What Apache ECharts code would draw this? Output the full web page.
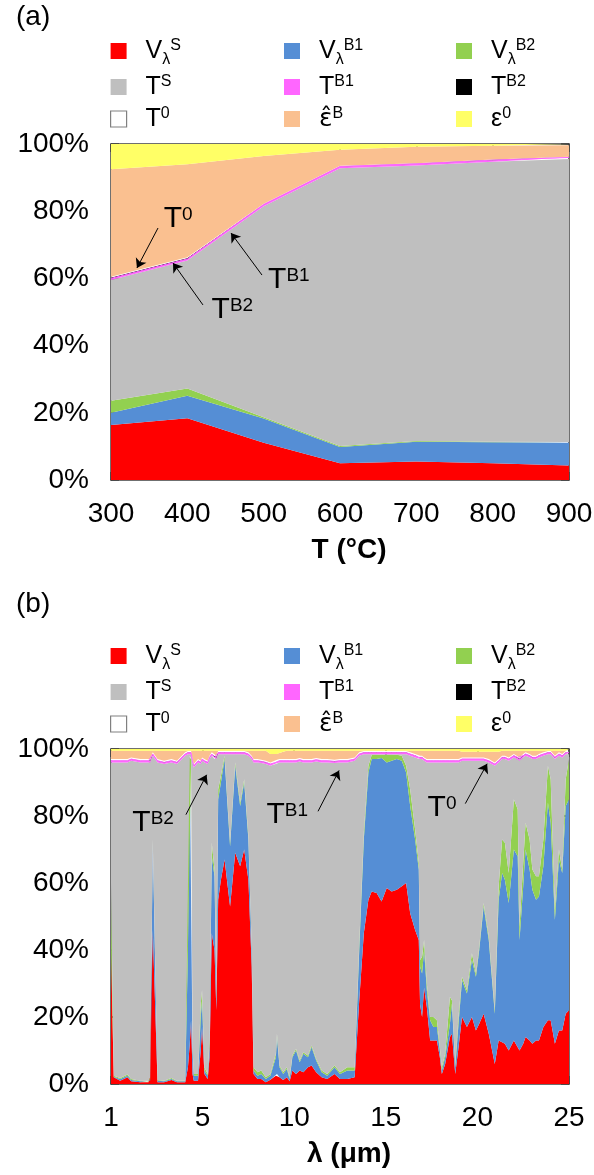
<!DOCTYPE html>
<html>
<head>
<meta charset="utf-8">
<script src="https://cdn.jsdelivr.net/npm/echarts@6/dist/echarts.min.js"></script>
<style>
html, body { margin: 0; padding: 0; background: #fff; }
#chart { width: 594px; height: 1175px; }
</style>
</head>
<body>
<div id="chart"></div>
<script>
// ---- (a) share of each term vs temperature (%) ----
var tempC = [300, 400, 500, 600, 700, 800, 900];
var aVS  = [16.4, 18.4, 11.1, 5.0, 5.5, 5.0, 4.3];
var aVB1 = [3.6, 6.7, 7.2, 4.8, 5.9, 6.2, 6.8];
var aVB2 = [3.6, 2.1, 0.4, 0.3, 0.2, 0.2, 0.2];
var aTS  = [35.9, 38.1, 62.8, 82.7, 82.0, 83.3, 84.2];
var aTB1 = [0.5, 0.5, 0.5, 0.5, 0.5, 0.5, 0.5];
var aTB2 = [0.3, 0.3, 0.1, 0.1, 0.1, 0.1, 0.1];
var aT0  = [0.2, 0.2, 0.1, 0.1, 0.1, 0.1, 0.1];
var aEB  = [32.0, 27.7, 14.2, 4.8, 4.9, 4.1, 3.4];
var aE0  = [7.5, 6.0, 3.6, 1.7, 0.8, 0.5, 0.4];

// ---- (b) share of each term vs wavelength (%) ----
var lambdaUm = [0,0.15,0.5,0.9,1.1,1.6,2.05,2.14,2.28,2.54,
  2.9,3.3,3.6,4.05,4.2,4.3,4.37,4.45,4.52,4.75,
  4.9,4.97,5.1,5.28,5.38,5.5,5.65,5.75,5.85,6.0,
  6.2,6.5,6.78,7.05,7.27,7.5,7.68,7.78,8.0,8.2,
  8.45,8.7,9.0,9.06,9.2,9.4,9.6,9.75,9.9,10.1,
  10.3,10.5,10.75,10.95,11.2,11.5,11.8,12.2,12.5,12.9,
  13.3,13.55,13.8,14.05,14.23,14.5,14.77,15.05,15.32,15.6,
  15.87,16.11,16.33,16.6,16.8,16.87,16.98,17.09,17.24,17.42,
  17.6,17.79,17.95,18.06,18.24,18.5,18.61,18.79,18.97,19.16,
  19.43,19.7,19.92,20.1,20.34,20.62,20.95,21.16,21.35,21.5,
  21.71,21.99,22.2,22.3,22.5,22.63,22.85,23.0,23.2,23.36,
  23.6,23.85,24.0,24.23,24.45,24.63,24.82,25.0];
var bVS = [40,2,1,2,0.8,0.5,0.5,1,46,0.5,
  0.5,1.2,0.5,0.5,5,12,19,3,1,1,
  10,17,3,1.5,8,45,40,22,55,61,
  67,53,69,65,70,61,35,3,1.5,1.5,
  0.5,1.3,2.5,3,2,1.2,2,0.8,4,3,
  4,3.5,5,5.5,3.5,2,1.5,3,1.5,1.5,
  2,25,45,55,57.5,57,54.5,58.5,57.5,58,
  59,60,51,46,43,23.7,20,28.7,23,13,
  13,13,8,3,6,14,15,3,11,20,
  17,20,16,18,21,15,6,13,12.5,12,
  10,13,11,10,12,14,13,12,13,13,
  17,19,19,12,16,16,21,22];
var bVB1 = [1,0.2,0.5,0.5,0.4,0.3,0.3,0.5,26,0.5,
  0.3,0.3,0.3,0.3,35,84,77,7,1.5,1.5,
  10,8,1,1,4,23,22,3,30,29,
  30,18,26,18,20,12,5,1,1,1.5,
  1,1.2,5.5,11,3,1.8,2.5,0.7,4,7,
  2.5,5.5,3,5.5,3.5,1.5,1,2,1.5,2.5,
  2,15,28,38,39.5,40,42.8,37.5,39,39,
  37.5,33,32,27,21,11.3,13,11.3,5,6,
  4,4,2,1,2,4,9,2,7,11,
  10,17,16,22,32,28,15,42,50.5,49,
  44,57,57,33,47,56,51,46,42,43,
  48,65,59,37,51,47,62,63];
var bVB2 = [19,0.3,0.3,0.3,0.3,0.2,0.2,0.5,1,0.2,
  0.2,0.3,0.2,0.2,58,2,1,1,0.5,0.5,
  4,3,1,0.5,2,4,2,2,3,2,
  1,1,1,1,1,1,1,1,1,1,
  0.5,0.5,1,1,0.5,0.5,0.5,0.5,0.5,0.5,
  0.5,0.5,0.5,0.5,0.5,0.5,0.5,0.5,0.5,1,
  1,2,2,2,1.2,1.2,1,2.2,1.7,1.3,
  1.5,2,5,3,2,2,5,3,2,1,
  3,2,1,1,1,8,1,1,2,1,
  1,2,1,1,1,1,1,4,10,11,
  9,15,14,4,7,8,9,6,7,6,
  8,11,13,3,3,1,8,12];
var bTS = [36,93.5,94.2,93.2,95,95,95,94,25,94.8,
  94.5,94.2,94.5,97,0.4,0.4,1.4,85,91.5,93,
  71.5,68.5,91,92.5,83,26,33,70,10.4,6.4,
  0.4,26.4,2.4,14.4,7.4,24,56,91,92.5,91.8,
  93.5,92,86.5,80.8,90.5,92.5,91,94,87.5,85.5,
  89.3,86.5,87.5,84.5,88.8,92,93,90.3,92.5,91,
  91.5,56,23.4,3.4,0.2,0.2,0.1,0.2,0.2,0.1,
  0.4,3.4,10,21.5,31,60,59,53.5,66,76,
  76,77,85,91,87,70,71,90,76,64.5,
  68.5,57.5,63.5,55.5,42.5,52,73,37,24,25,
  33.5,12.5,15,49.5,31.5,20,24.5,33,35,35.5,
  25,3.4,7.4,45,28,33.5,7.4,1.4];
var bTB1 = [0.5,0.5,0.5,0.5,0.5,0.5,0.5,0.5,0.5,0.5,
  0.5,0.5,0.5,0.5,0.5,0.5,0.5,0.5,0.5,0.5,
  0.5,0.5,0.5,0.5,0.5,0.5,0.5,0.5,0.5,0.5,
  0.5,0.5,0.5,0.5,0.5,0.5,0.5,0.5,0.5,0.5,
  0.5,0.5,0.5,0.5,0.5,0.5,0.5,0.5,0.5,0.5,
  0.5,0.5,0.5,0.5,0.5,0.5,0.5,0.5,0.5,0.5,
  0.5,0.5,0.5,0.5,0.5,0.5,0.5,0.5,0.5,0.5,
  0.5,0.5,0.5,0.5,0.5,0.5,0.5,0.5,0.5,0.5,
  0.5,0.5,0.5,0.5,0.5,0.5,0.5,0.5,0.5,0.5,
  0.5,0.5,0.5,0.5,0.5,0.5,0.5,0.5,0.5,0.5,
  0.5,0.5,0.5,0.5,0.5,0.5,0.5,0.5,0.5,0.5,
  0.5,0.5,0.5,0.5,0.5,0.5,0.5,0.5];
var bTB2 = [0.1,0.1,0.1,0.1,0.1,0.1,0.1,0.1,0.1,0.1,
  0.1,0.1,0.1,0.1,0.1,0.1,0.1,0.1,0.1,0.1,
  0.1,0.1,0.1,0.1,0.1,0.1,0.1,0.1,0.1,0.1,
  0.1,0.1,0.1,0.1,0.1,0.1,0.1,0.1,0.1,0.1,
  0.1,0.1,0.1,0.1,0.1,0.1,0.1,0.1,0.1,0.1,
  0.1,0.1,0.1,0.1,0.1,0.1,0.1,0.1,0.1,0.1,
  0.1,0.1,0.1,0.1,0.1,0.1,0.1,0.1,0.1,0.1,
  0.1,0.1,0.1,0.1,0.1,0.1,0.1,0.1,0.1,0.1,
  0.1,0.1,0.1,0.1,0.1,0.1,0.1,0.1,0.1,0.1,
  0.1,0.1,0.1,0.1,0.1,0.1,0.1,0.1,0.1,0.1,
  0.1,0.1,0.1,0.1,0.1,0.1,0.1,0.1,0.1,0.1,
  0.1,0.1,0.1,0.1,0.1,0.1,0.1,0.1];
var bT0 = [0.4,0.4,0.4,0.4,0.4,0.4,0.4,0.4,0.4,0.4,
  0.4,0.4,0.4,0.4,0.4,0.4,0.4,0.4,0.4,0.4,
  0.4,0.4,0.4,0.4,0.4,0.4,0.4,0.4,0.4,0.4,
  0.4,0.4,0.4,0.4,0.4,0.4,0.4,0.4,0.4,0.4,
  0.4,0.4,0.4,0.4,0.4,0.4,0.4,0.4,0.4,0.4,
  0.4,0.4,0.4,0.4,0.4,0.4,0.4,0.4,0.4,0.4,
  0.4,0.4,0.4,0.4,0.4,0.4,0.4,0.4,0.4,0.4,
  0.4,0.4,0.4,0.4,0.4,0.4,0.4,0.4,0.4,0.4,
  0.4,0.4,0.4,0.4,0.4,0.4,0.4,0.4,0.4,0.4,
  0.4,0.4,0.4,0.4,0.4,0.4,0.4,0.4,0.4,0.4,
  0.4,0.4,0.4,0.4,0.4,0.4,0.4,0.4,0.4,0.4,
  0.4,0.4,0.4,0.4,0.4,0.4,0.4,0.4];
var bEB = [2.5,2.5,2.5,2.5,2.0,2.5,2.5,2.5,0.5,2.5,
  3.0,2.5,3.0,0.5,0.1,0.1,0.1,2.5,4.0,2.5,
  3.0,2.0,2.5,3.0,1.5,0.5,1.5,1.5,0.1,0.1,
  0.1,0.1,0.1,0.1,0.1,0.5,1.5,2.5,2.5,2.7,
  3.0,2.5,2.0,1.7,1.8,2.2,2.5,2.5,2.5,2.5,
  2.2,2.5,2.5,2.5,2.2,2.5,2.5,2.7,2.5,2.5,
  2.0,0.5,0.1,0.1,0.1,0.1,0.1,0.1,0.1,0.1,
  0.1,0.1,0.5,1.0,1.5,1.5,1.5,2.0,2.5,2.5,
  2.5,2.5,2.5,2.5,2.5,2.5,2.5,2.5,2.5,1.7,
  1.7,1.7,1.7,1.7,1.7,2.2,3.2,2.2,1.5,1.5,
  2.0,1.0,1.5,2.0,1.0,0.5,1.0,1.5,1.5,1.0,
  0.5,0.1,0.1,1.5,0.5,1.0,0.1,0.1];
var bE0 = [0.5,0.5,0.5,0.5,0.5,0.5,0.5,0.5,0.5,0.5,
  0.5,0.5,0.5,0.5,0.5,0.5,0.5,0.5,0.5,0.5,
  0.5,0.5,0.5,0.5,0.5,0.5,0.5,0.5,0.5,0.5,
  0.5,0.5,0.5,0.5,0.5,0.5,0.5,0.5,0.5,0.5,
  0.5,1.5,1.5,1.5,1.2,0.8,0.5,0.5,0.5,0.5,
  0.5,0.5,0.5,0.5,0.5,0.5,0.5,0.5,0.5,0.5,
  0.5,0.5,0.5,0.5,0.5,0.5,0.5,0.5,0.5,0.5,
  0.5,0.5,0.5,0.5,0.5,0.5,0.5,0.5,0.5,0.5,
  0.5,0.5,0.5,0.5,0.5,0.5,0.5,0.5,0.5,0.8,
  0.8,0.8,0.8,0.8,0.8,0.8,0.8,0.8,0.5,0.5,
  0.5,0.5,0.5,0.5,0.5,0.5,0.5,0.5,0.5,0.5,
  0.5,0.5,0.5,0.5,0.5,0.5,0.5,0.5];

// arrow annotations, in data units: label centre, arrow tail, arrow head
var notesA = [
  { text: '{t|T}{s|0}',  at: [388, 77.7], from: [361.6, 75.0], to: [334, 63.1] },
  { text: '{t|T}{s|B2}', at: [459, 50.6], from: [420.5, 52.1], to: [381.2, 64.6] },
  { text: '{t|T}{s|B1}', at: [533, 59.5], from: [497.8, 61.0], to: [457.2, 73.5] }
];
var notesB = [
  { text: '{t|T}{s|B2}', at: [2.3, 78.1],  from: [4.09, 80.4],  to: [5.22, 92.3] },
  { text: '{t|T}{s|B1}', at: [9.62, 80.4], from: [11.3, 81.4],  to: [12.45, 93.6] },
  { text: '{t|T}{s|0}',  at: [18.07, 82.4], from: [19.34, 83.7], to: [20.53, 95.6] }
];

var FONT = "'Liberation Sans', Arial, sans-serif";
var names = ['VS', 'VB1', 'VB2', 'TS', 'TB1', 'TB2', 'T0', 'EB', 'E0'];
var colors = {
  VS: '#ff0000', VB1: '#558ed5', VB2: '#92d050', TS: '#bfbfbf', TB1: '#ff66ff',
  TB2: '#000000', T0: '#ffffff', EB: '#fac090', E0: '#ffff66'
};
var legendText = {
  VS: '{b|V}{sub|λ}{sup|S}', VB1: '{b|V}{sub|λ}{sup|B1}', VB2: '{b|V}{sub|λ}{sup|B2}',
  TS: '{b|T}{sup|S}', TB1: '{b|T}{sup|B1}', TB2: '{b|T}{sup|B2}',
  T0: '{b|T}{sup|0}', EB: '{e|ε\u0302}{sup|B}', E0: '{b|ε}{sup|0}'
};

// value first, x second: the stack then runs on the y dimension
function pairs(xs, ys) {
  return xs.map(function (x, i) { return [ys[i], x]; });
}

var noteRich = {
  t: { fontSize: 30, fontFamily: FONT, color: '#000', lineHeight: 34 },
  s: { fontSize: 19, fontFamily: FONT, color: '#000', lineHeight: 34, padding: [0, 0, 8, 0] }
};

function buildSeries(gridIdx, xs, cols, stackId, notes) {
  return names.map(function (n, k) {
    var s = {
      name: n,
      type: 'line',
      xAxisIndex: gridIdx * 2,
      yAxisIndex: gridIdx * 2,
      stack: stackId,
      encode: { x: 1, y: 0 },
      data: pairs(xs, cols[k]),
      symbol: 'none',
      showSymbol: false,
      lineStyle: n === 'TB1' ? { width: 1, color: colors[n] } : { width: 0 },
      itemStyle: { color: colors[n] },
      areaStyle: { color: colors[n], opacity: 1 },
      emphasis: { disabled: true },
      silent: true
    };
    if (n === 'E0') {
      s.markLine = {
        silent: true,
        symbol: ['none', 'arrow'],
        symbolSize: 9,
        lineStyle: { color: '#000', width: 1, type: 'solid' },
        label: { show: false },
        data: notes.map(function (a) { return [{ coord: a.from }, { coord: a.to }]; })
      };
      s.markPoint = {
        silent: true,
        symbol: 'rect',
        symbolSize: 1,
        itemStyle: { color: 'rgba(0,0,0,0)' },
        label: { show: true, position: 'inside', rich: noteRich },
        data: notes.map(function (a) {
          return { coord: a.at, label: { formatter: a.text } };
        })
      };
    }
    return s;
  });
}

var legendRich = {
  b: { fontSize: 25, fontFamily: FONT, color: '#000', lineHeight: 26, padding: [0, 0, 0, 14] },
  e: { fontSize: 25, fontFamily: "'DejaVu Sans', sans-serif", color: '#000', lineHeight: 26, padding: [0, 0, 0, 14] },
  sup: { fontSize: 16, fontFamily: FONT, color: '#000', lineHeight: 26, padding: [0, 0, 10, 0] },
  sub: { fontSize: 16, fontFamily: FONT, color: '#000', lineHeight: 26, padding: [18, 0, 0, 0] }
};

function legendCol(left, top, items) {
  return {
    orient: 'vertical', left: left, top: top, padding: 0,
    itemGap: 6, itemWidth: 16, itemHeight: 16, icon: 'rect',
    selectedMode: false,
    data: items.map(function (n) {
      if (n === 'T0') {
        return { name: n, itemStyle: { color: '#fff', borderColor: '#808080', borderWidth: 1.2 } };
      }
      return { name: n };
    }),
    formatter: function (n) { return legendText[n]; },
    textStyle: { fontFamily: FONT, fontSize: 25, color: '#000', rich: legendRich }
  };
}

var frame = { show: true, onZero: false, lineStyle: { color: '#404040', width: 1.5 } };
var tick = { show: true, inside: true, length: 8, lineStyle: { color: '#404040', width: 1.5 } };
var tickLabel = { fontSize: 28, fontFamily: FONT, color: '#000' };
var nameStyle = { fontSize: 28, fontWeight: 'bold', fontFamily: FONT, color: '#000', padding: [0, 0, 0, 18] };

function xPair(grid, min, max, step, name, fmt) {
  var lab = Object.assign({ margin: 20 }, tickLabel);
  if (fmt) lab.formatter = fmt;
  return [
    { gridIndex: grid, type: 'value', position: 'bottom', min: min, max: max, interval: step,
      axisLine: frame, axisTick: tick, axisLabel: lab, splitLine: { show: false },
      name: name, nameLocation: 'middle', nameGap: 56, nameTextStyle: nameStyle },
    { gridIndex: grid, type: 'value', position: 'top', min: min, max: max, interval: step,
      axisLine: frame, axisTick: tick, axisLabel: { show: false }, splitLine: { show: false } }
  ];
}
function yPair(grid) {
  return [
    { gridIndex: grid, type: 'value', position: 'left', min: 0, max: 100, interval: 20,
      axisLine: frame, axisTick: tick, splitLine: { show: false },
      axisLabel: Object.assign({ margin: 22, formatter: '{value}%' }, tickLabel) },
    { gridIndex: grid, type: 'value', position: 'right', min: 0, max: 100, interval: 20,
      axisLine: frame, axisTick: tick, splitLine: { show: false }, axisLabel: { show: false } }
  ];
}

var chart = echarts.init(document.getElementById('chart'));
var option = {
  animation: false,
  backgroundColor: '#fff',
  title: [
    { text: '(a)', left: 16, top: 3, padding: 0, textStyle: { fontSize: 28, fontWeight: 'normal', fontFamily: FONT, color: '#000' } },
    { text: '(b)', left: 16, top: 590, padding: 0, textStyle: { fontSize: 28, fontWeight: 'normal', fontFamily: FONT, color: '#000' } }
  ],
  legend: [
    legendCol(110, 34, ['VS', 'TS', 'T0']),
    legendCol(284, 34, ['VB1', 'TB1', 'EB']),
    legendCol(456, 34, ['VB2', 'TB2', 'E0']),
    legendCol(110, 639, ['VS', 'TS', 'T0']),
    legendCol(284, 639, ['VB1', 'TB1', 'EB']),
    legendCol(456, 639, ['VB2', 'TB2', 'E0'])
  ],
  grid: [
    { left: 111, top: 144, width: 458, height: 336, outerBoundsMode: 'none' },
    { left: 111, top: 749, width: 458, height: 335, outerBoundsMode: 'none' }
  ],
  xAxis: xPair(0, 300, 900, 100, 'T (°C)')
    .concat(xPair(1, 0, 25, 5, 'λ (μm)', function (v) { return v === 0 ? '1' : String(v); })),
  yAxis: yPair(0).concat(yPair(1)),
  series: buildSeries(0, tempC, [aVS, aVB1, aVB2, aTS, aTB1, aTB2, aT0, aEB, aE0], 'a', notesA)
    .concat(buildSeries(1, lambdaUm, [bVS, bVB1, bVB2, bTS, bTB1, bTB2, bT0, bEB, bE0], 'b', notesB))
};
chart.setOption(option);
</script>
</body>
</html>
